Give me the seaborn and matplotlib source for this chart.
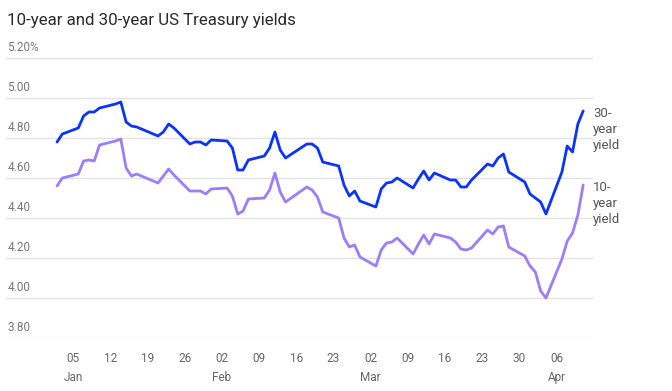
import pandas as pd
import seaborn as sns
import matplotlib.pyplot as plt
import matplotlib.dates as mdates
import matplotlib.transforms as mtransforms


# trading days shown on the chart
DATES = [
    "2025-01-02", "2025-01-03", "2025-01-06", "2025-01-07", "2025-01-08", "2025-01-09", "2025-01-10",
    "2025-01-13", "2025-01-14", "2025-01-15", "2025-01-16", "2025-01-17", "2025-01-21", "2025-01-22",
    "2025-01-23", "2025-01-24", "2025-01-27", "2025-01-28", "2025-01-29", "2025-01-30", "2025-01-31",
    "2025-02-03", "2025-02-04", "2025-02-05", "2025-02-06", "2025-02-07", "2025-02-10", "2025-02-11",
    "2025-02-12", "2025-02-13", "2025-02-14", "2025-02-18", "2025-02-19", "2025-02-20", "2025-02-21",
    "2025-02-24", "2025-02-25", "2025-02-26", "2025-02-27", "2025-02-28",
    "2025-03-03", "2025-03-04", "2025-03-05", "2025-03-06", "2025-03-07", "2025-03-10", "2025-03-11",
    "2025-03-12", "2025-03-13", "2025-03-14", "2025-03-17", "2025-03-18", "2025-03-19", "2025-03-20",
    "2025-03-21", "2025-03-24", "2025-03-25", "2025-03-26", "2025-03-27", "2025-03-28", "2025-03-31",
    "2025-04-01", "2025-04-02", "2025-04-03", "2025-04-04", "2025-04-07", "2025-04-08", "2025-04-09",
    "2025-04-10", "2025-04-11",
]

YIELD_30Y = [
    4.78, 4.82, 4.85, 4.91, 4.93, 4.93, 4.95, 4.97, 4.98, 4.88, 4.86, 4.855, 4.81, 4.83,
    4.87, 4.85, 4.77, 4.78, 4.78, 4.765, 4.79,
    4.785, 4.75, 4.64, 4.64, 4.69, 4.71, 4.75, 4.83, 4.74, 4.70, 4.77, 4.77, 4.75, 4.68,
    4.66, 4.565, 4.51, 4.535, 4.485,
    4.455, 4.545, 4.575, 4.58, 4.60, 4.55, 4.595, 4.635, 4.59, 4.625, 4.59, 4.59, 4.555, 4.555,
    4.59, 4.67, 4.66, 4.70, 4.72, 4.63, 4.58,
    4.52, 4.50, 4.48, 4.42, 4.63, 4.76, 4.73, 4.87, 4.935,
]

YIELD_10Y = [
    4.56, 4.60, 4.62, 4.685, 4.69, 4.685, 4.765, 4.785, 4.795, 4.65, 4.61, 4.62, 4.575, 4.61,
    4.645, 4.615, 4.535, 4.535, 4.535, 4.52, 4.545,
    4.55, 4.51, 4.42, 4.435, 4.495, 4.50, 4.54, 4.625, 4.53, 4.48, 4.555, 4.54, 4.505, 4.43,
    4.40, 4.30, 4.255, 4.265, 4.205,
    4.16, 4.24, 4.275, 4.28, 4.30, 4.22, 4.27, 4.315, 4.27, 4.32, 4.30, 4.28, 4.245, 4.24,
    4.25, 4.34, 4.32, 4.355, 4.36, 4.255, 4.21,
    4.16, 4.13, 4.035, 4.00, 4.195, 4.285, 4.325, 4.415, 4.565,
]

SERIES_NAMES = ["30-year\nyield", "10-year\nyield"]
SERIES_LABELS = ["30-\nyear\nyield", "10-\nyear\nyield"]
COLORS = ["#0a33ff", "#9b7dff"]

Y_TICKS = [3.80, 4.00, 4.20, 4.40, 4.60, 4.80, 5.00, 5.20]
Y_TICK_LABELS = ["3.80", "4.00", "4.20", "4.40", "4.60", "4.80", "5.00", "5.20%"]

X_TICKS = ["2025-01-05", "2025-01-12", "2025-01-19", "2025-01-26", "2025-02-02", "2025-02-09",
           "2025-02-16", "2025-02-23", "2025-03-02", "2025-03-09", "2025-03-16", "2025-03-23",
           "2025-03-30", "2025-04-06"]
X_TICK_LABELS = ["05\nJan", "12", "19", "26", "02\nFeb", "09", "16", "23", "02\nMar", "09",
                 "16", "23", "30", "06\nApr"]


df = pd.DataFrame({"date": pd.to_datetime(DATES),
                   SERIES_NAMES[0]: YIELD_30Y,
                   SERIES_NAMES[1]: YIELD_10Y})
long_df = df.melt(id_vars="date", var_name="series", value_name="yield")

sns.set_theme(style="white")
plt.rcParams["font.family"] = ["Roboto", "DejaVu Sans"]

fig = plt.figure(figsize=(6.72, 3.91), dpi=100)
ax = fig.add_axes([6 / 672, 53 / 391, 587 / 672, 280 / 391])

sns.lineplot(data=long_df, x="date", y="yield", hue="series",
             palette=dict(zip(SERIES_NAMES, COLORS)), linewidth=2,
             legend=False, ax=ax)

start = mdates.date2num(pd.Timestamp(DATES[0]))
ax.set_xlim(start - 9.6, start + 100.85)
ax.set_ylim(Y_TICKS[0], Y_TICKS[-1])

for side in ["top", "right", "left", "bottom"]:
    ax.spines[side].set_visible(False)

ax.set_yticks(Y_TICKS)
ax.set_yticklabels([])
ax.tick_params(axis="y", length=0)
ax.grid(axis="y", color="#e2e2e2", linewidth=1)
ax.grid(axis="x", visible=False)

# y labels sit above the gridlines, flush left
trans = mtransforms.blended_transform_factory(ax.transAxes, ax.transData)
for v, lab in zip(Y_TICKS, Y_TICK_LABELS):
    ax.annotate(lab, xy=(0, v), xycoords=trans, xytext=(1, 3), textcoords="offset points",
                ha="left", va="bottom", fontsize=8.5, color="#777777")

ax.set_xticks(pd.to_datetime(X_TICKS))
ax.set_xticklabels(X_TICK_LABELS, fontsize=8.5, color="#666666", linespacing=1.6)
ax.tick_params(axis="x", length=0, pad=10)
ax.set_xlabel("")
ax.set_ylabel("")

# end-of-line labels
last_date = df["date"].iloc[-1]
for name, lab in zip(SERIES_NAMES, SERIES_LABELS):
    ax.annotate(lab, xy=(last_date, df[name].iloc[-1]), xytext=(7, 3),
                textcoords="offset points", ha="left", va="top",
                fontsize=9.5, color="#555555", linespacing=1.3,
                annotation_clip=False)

fig.text(7 / 672, 1 - 20 / 391, "10-year and 30-year US Treasury yields",
         ha="left", va="center", fontsize=12.2, color="#2a2a2a")

fig.savefig("out.png", dpi=100)
plt.close(fig)
